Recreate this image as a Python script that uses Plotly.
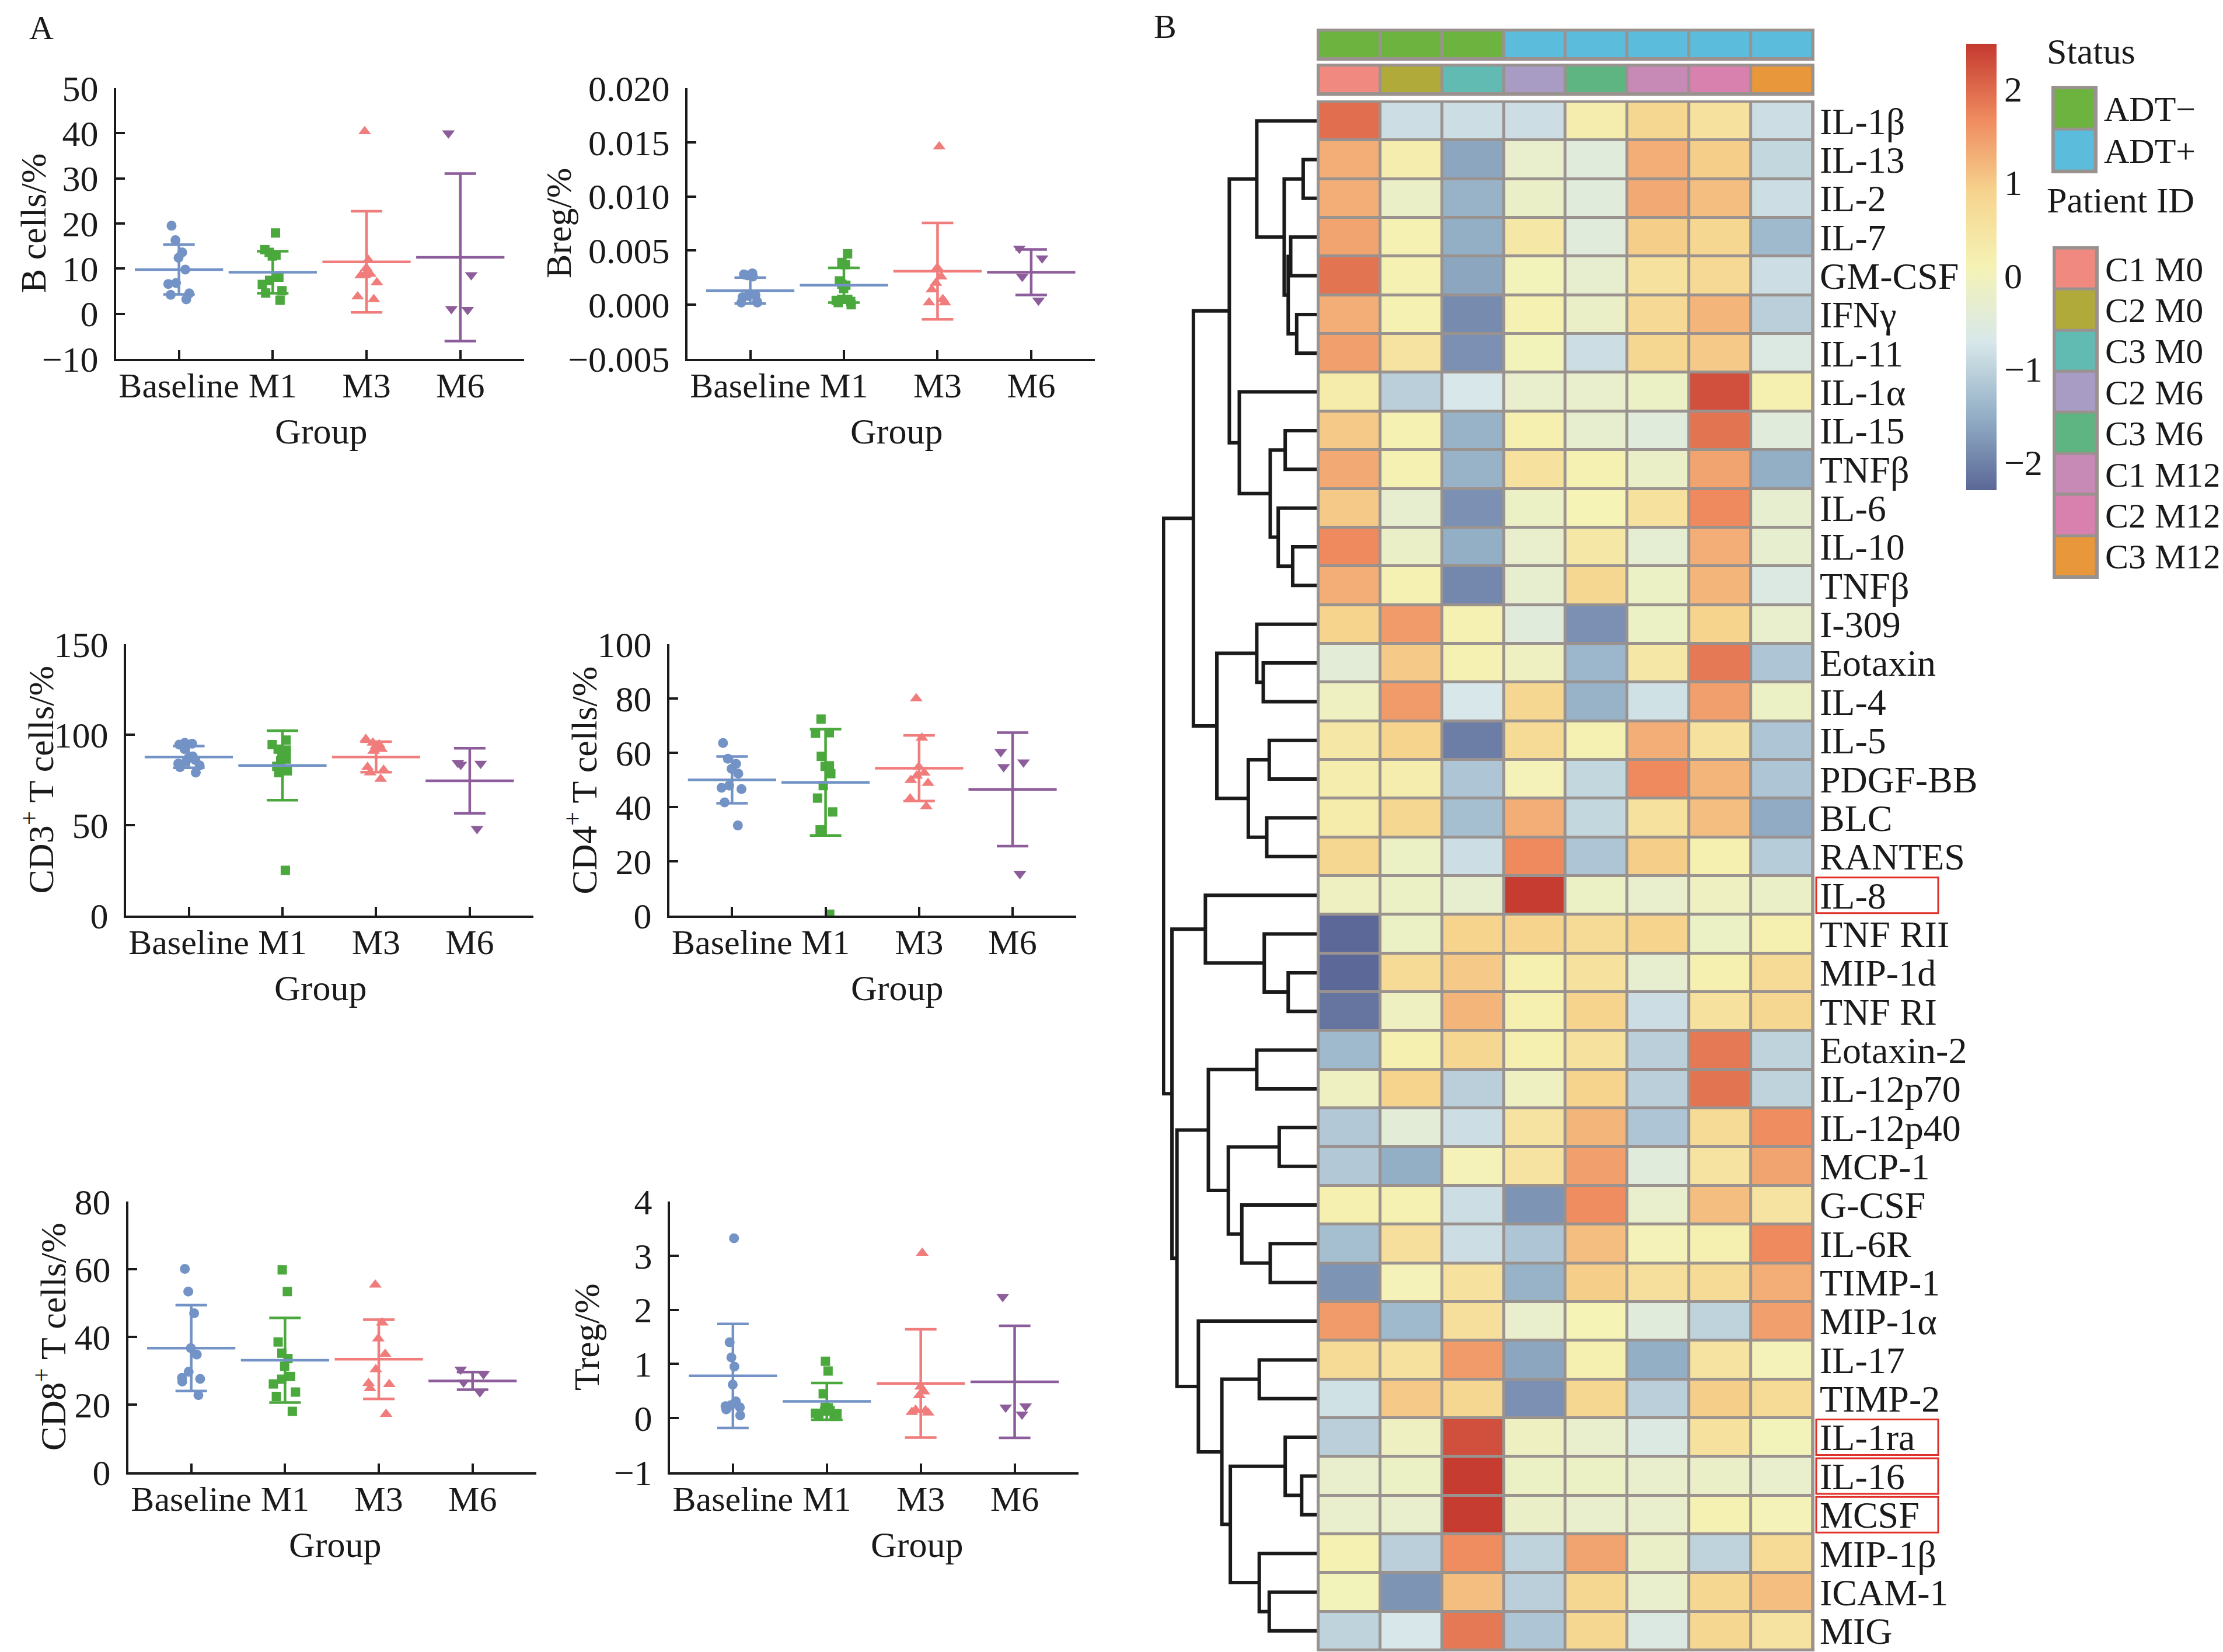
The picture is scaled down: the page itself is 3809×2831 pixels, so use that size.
import plotly.graph_objects as go

W, H = 3809, 2831
FONT = "Liberation Serif"
INK = "#1a1a1a"
FRAME = "#9a928f"

# ---------------- panel A data ----------------
GROUPS = ["Baseline", "M1", "M3", "M6"]
GROUP_COLORS = ["#7393c6", "#4aa83c", "#f07c7c", "#8d5c9a"]
MEAN_COLORS = ["#7393c6", "#7393c6", "#f07c7c", "#8d5c9a"]
GROUP_SYMBOLS = ["circle", "square", "triangle-up", "triangle-down"]
SYMBOL_SIZES = [17, 16, 19, 19]

B_CELLS = [
    [19.5, 16.3, 13.6, 12.4, 9.8, 6.8, 6.6, 4.5, 4.2, 3.2],
    [17.9, 14.2, 13.6, 13.0, 12.8, 8.1, 7.4, 6.5, 5.1, 4.6, 3.0],
    [40.4, 11.9, 10.1, 8.8, 8.6, 8.5, 6.9, 3.8, 3.2],
    [40.0, 8.6, 1.1, 0.9],
]
B_CELLS_MEAN = [9.8, 9.2, 11.5, 12.5]
B_CELLS_SD = [5.5, 4.65, 11.2, 18.55]

BREG = [
    [0.0029, 0.0028, 0.0027, 0.0026, 0.0010, 0.0009, 0.0008, 0.0007, 0.0003, 0.0002, 0.0002],
    [0.0047, 0.0039, 0.0037, 0.0022, 0.0019, 0.0018, 0.0015, 0.0005, 0.0004, 0.0005, 0.0003, 0.0002, 0.0000],
    [0.0146, 0.0034, 0.0026, 0.0020, 0.0014, 0.0005, 0.0002, 0.0002],
    [0.0052, 0.0043, 0.0026, 0.0004],
]
BREG_MEAN = [0.0013, 0.0018, 0.0031, 0.0030]
BREG_SD = [0.0012, 0.0016, 0.00445, 0.0021]

CD3 = [
    [95.5, 95.0, 94.5, 92.0, 88.0, 87.0, 86.0, 85.0, 84.0, 83.0, 82.0, 79.0],
    [97.0, 94.5, 92.0, 91.5, 90.5, 86.5, 85.5, 82.5, 80.0, 79.0, 25.0],
    [97.5, 95.5, 94.5, 93.5, 92.0, 91.0, 82.0, 80.5, 79.0, 75.5],
    [84.5, 84.0, 83.5, 48.0],
]
CD3_MEAN = [87.7, 83.0, 87.7, 74.5]
CD3_SD = [6.0, 19.2, 8.4, 18.0]

CD4 = [
    [63.6, 57.8, 55.9, 54.1, 52.3, 47.9, 47.1, 46.6, 41.7, 33.2],
    [72.4, 67.4, 67.2, 58.7, 55.2, 55.0, 52.3, 47.9, 43.3, 38.2, 31.6, 0.5],
    [80.0, 65.5, 54.8, 52.6, 51.5, 49.9, 48.8, 43.1, 40.2],
    [60.3, 56.5, 54.8, 15.4],
]
CD4_MEAN = [50.0, 49.1, 54.3, 46.5]
CD4_SD = [8.6, 19.6, 12.1, 20.9]

CD8 = [
    [60.1, 53.4, 47.0, 36.7, 34.8, 29.7, 27.9, 27.6, 26.8, 22.8],
    [59.8, 53.4, 38.5, 35.2, 33.6, 31.3, 28.3, 27.5, 26.1, 23.7, 22.4, 18.0],
    [55.4, 44.2, 39.5, 34.9, 30.4, 26.0, 26.3, 24.8, 17.2],
    [30.4, 29.0, 26.6, 23.7],
]
CD8_MEAN = [36.7, 33.1, 33.4, 27.0]
CD8_SD = [12.7, 12.5, 11.7, 2.6]

TREG = [
    [3.32, 1.40, 1.12, 0.95, 0.62, 0.31, 0.24, 0.22, 0.20, 0.16, 0.05],
    [1.05, 0.87, 0.45, 0.20, 0.19, 0.18, 0.14, 0.13, 0.09, 0.08, 0.07, 0.06],
    [3.05, 0.58, 0.49, 0.42, 0.15, 0.14, 0.11, 0.10],
    [2.24, 0.22, 0.20, 0.07],
]
TREG_MEAN = [0.78, 0.31, 0.64, 0.67]
TREG_SD = [0.96, 0.34, 1.0, 1.035]

# ---------------- panel B data ----------------
CYTOKINES = ["IL-1β", "IL-13", "IL-2", "IL-7", "GM-CSF", "IFNγ", "IL-11", "IL-1α",
             "IL-15", "TNFβ", "IL-6", "IL-10", "TNFβ", "I-309", "Eotaxin", "IL-4",
             "IL-5", "PDGF-BB", "BLC", "RANTES", "IL-8", "TNF RII", "MIP-1d", "TNF RI",
             "Eotaxin-2", "IL-12p70", "IL-12p40", "MCP-1", "G-CSF", "IL-6R", "TIMP-1",
             "MIP-1α", "IL-17", "TIMP-2", "IL-1ra", "IL-16", "MCSF", "MIP-1β", "ICAM-1", "MIG"]
HIGHLIGHTED = ["IL-8", "IL-1ra", "IL-16", "MCSF"]

CYTOKINE_Z = [
    [1.95, -0.85, -0.85, -0.85, 0.25, 0.82, 0.55, -0.85],
    [1.3, 0.25, -1.6, -0.25, -0.5, 1.3, 0.95, -0.95],
    [1.3, -0.2, -1.45, -0.2, -0.5, 1.35, 1.12, -0.85],
    [1.4, 0.15, -1.5, 0.38, -0.5, 0.95, 0.82, -1.35],
    [1.9, 0.15, -1.6, 0.0, -0.3, 0.55, 0.75, -0.85],
    [1.3, 0.15, -1.9, 0.15, -0.2, 0.75, 1.22, -1.05],
    [1.45, 0.5, -1.85, 0.0, -0.85, 0.82, 1.0, -0.6],
    [0.3, -1.05, -0.7, -0.25, -0.25, -0.15, 2.25, 0.2],
    [1.0, 0.15, -1.45, 0.2, -0.3, -0.5, 1.9, -0.5],
    [1.35, 0.15, -1.45, 0.55, 0.15, -0.2, 1.4, -1.5],
    [1.0, -0.3, -1.85, -0.15, 0.1, 0.55, 1.68, -0.3],
    [1.68, -0.2, -1.5, -0.25, 0.38, -0.35, 1.3, -0.3],
    [1.3, 0.15, -1.95, -0.3, 0.8, -0.15, 1.22, -0.6],
    [0.88, 1.5, 0.15, -0.5, -1.85, -0.15, 0.88, -0.25],
    [-0.4, 1.0, 0.15, -0.1, -1.4, 0.38, 1.85, -1.2],
    [-0.1, 1.5, -0.7, 0.82, -1.45, -0.8, 1.45, -0.15],
    [0.38, 0.88, -2.05, 0.7, 0.15, 1.3, 0.55, -1.2],
    [0.25, 0.25, -1.2, 0.05, -0.95, 1.68, 1.22, -1.2],
    [0.3, 0.82, -1.28, 1.3, -0.95, 0.55, 1.12, -1.55],
    [0.82, -0.15, -0.85, 1.68, -1.2, 0.95, 0.2, -1.1],
    [-0.1, -0.15, -0.3, 2.45, -0.15, -0.25, -0.1, -0.2],
    [-2.28, -0.15, 0.88, 0.88, 0.7, 0.88, -0.15, 0.2],
    [-2.28, 0.7, 1.0, 0.2, 0.55, -0.3, 0.2, 0.7],
    [-2.15, -0.1, 1.22, 0.2, 0.88, -0.85, 0.55, 0.8],
    [-1.35, 0.2, 0.8, 0.2, 0.55, -1.05, 1.85, -1.0],
    [-0.1, 0.88, -1.05, -0.1, 0.88, -1.05, 1.9, -1.0],
    [-1.15, -0.4, -0.85, 0.5, 1.22, -1.2, 0.7, 1.65],
    [-1.15, -1.5, 0.05, 0.5, 1.45, -0.5, 0.5, 1.4],
    [0.2, 0.15, -0.85, -1.8, 1.65, -0.25, 1.12, 0.5],
    [-1.28, 0.6, -0.85, -1.2, 1.12, 0.05, 0.2, 1.68],
    [-1.8, 0.05, 0.55, -1.45, 0.95, 0.6, 0.7, 1.3],
    [1.5, -1.35, 0.6, -0.25, 0.1, -0.5, -1.0, 1.45],
    [0.7, 0.55, 1.5, -1.6, 0.2, -1.5, 0.5, 0.05],
    [-0.8, 1.0, 0.8, -1.85, 0.82, -1.05, 0.95, 0.7],
    [-1.05, -0.1, 2.25, -0.1, -0.25, -0.6, 0.55, 0.0],
    [-0.25, -0.15, 2.45, -0.15, -0.15, -0.25, -0.2, -0.25],
    [-0.25, -0.25, 2.45, -0.2, -0.25, -0.25, 0.15, 0.05],
    [0.15, -1.05, 1.65, -1.0, 1.4, -0.2, -1.0, 0.7],
    [0.0, -1.8, 1.12, -1.05, 0.8, -0.25, 0.82, 1.12],
    [-1.0, -0.7, 1.85, -1.2, 0.82, -0.6, 0.82, 0.5],
]
Z_MIN, Z_MAX = -2.30, 2.48
HEAT_COLORS = ["#5b6797", "#93afc6", "#d8e8ea", "#f5f3b5", "#f6d48e", "#ef8a5f", "#c4392f"]

STATUS_LEVELS = ["ADT−", "ADT+"]
STATUS_COLORS = ["#6db33f", "#5bbcdc"]
STATUS = ["ADT−", "ADT−", "ADT−", "ADT+", "ADT+", "ADT+", "ADT+", "ADT+"]
PATIENTS = ["C1 M0", "C2 M0", "C3 M0", "C2 M6", "C3 M6", "C1 M12", "C2 M12", "C3 M12"]
PATIENT_COLORS = ["#f08a80", "#b0aa3a", "#62bbb3", "#a89bc4", "#5fb581", "#c78ab6", "#d880ae", "#e8973a"]

# row dendrogram: [height, left, right], leaves are row indices
DENDRO = [307,
          [247,
           [175,
            [120, 0, [65, [27, 1, 2], [57, [52, 3, 4], [40, 5, 6]]]],
            [155, 7, [93, [63, 8, 9], [77, 10, [48, 11, 12]]]]],
           [200,
            [120, 13, [107, 14, 15]],
            [137, [95, 16, 17], [100, 18, 19]]]],
          [290,
           [223, 20, [105, 21, [57, 22, 23]]],
           [280,
            [217, [120, 24, 25], [177, [75, 26, 27], [150, 28, [93, 29, 30]]]],
            [237, 31, [190, [115, 32, 33], [173, [63, 34, [30, 35, 36]], [115, 37, [95, 38, 39]]]]]]]]


def dom_x(a, b):
    return [a / W, b / W]


def dom_y(top, bottom):
    return [1 - bottom / H, 1 - top / H]


def names(k):
    s = "" if k == 1 else str(k)
    return "x" + s, "y" + s, "xaxis" + s, "yaxis" + s


def discrete_scale(colors):
    n = len(colors) - 1
    return [[i / n, c] for i, c in enumerate(colors)]


PANELS = [
    dict(title="B cells/%", pts=B_CELLS, mean=B_CELLS_MEAN, sd=B_CELLS_SD,
         yr=[-10, 50], ticks=[-10, 0, 10, 20, 30, 40, 50], fmt="",
         px=(191, 890), py=(143, 607), tx=49, gx=542),
    dict(title="Breg/%", pts=BREG, mean=BREG_MEAN, sd=BREG_SD,
         yr=[-0.005, 0.020], ticks=[-0.005, 0, 0.005, 0.010, 0.015, 0.020], fmt=".3f",
         px=(1170, 1868), py=(143, 607), tx=949, gx=1528),
    dict(title="CD3<sup>+</sup> T cells/%", pts=CD3, mean=CD3_MEAN, sd=CD3_SD,
         yr=[0, 150], ticks=[0, 50, 100, 150], fmt="",
         px=(208, 906), py=(1096, 1561), tx=56, gx=541),
    dict(title="CD4<sup>+</sup> T cells/%", pts=CD4, mean=CD4_MEAN, sd=CD4_SD,
         yr=[0, 100], ticks=[0, 20, 40, 60, 80, 100], fmt="",
         px=(1139, 1836), py=(1096, 1561), tx=987, gx=1529),
    dict(title="CD8<sup>+</sup> T cells/%", pts=CD8, mean=CD8_MEAN, sd=CD8_SD,
         yr=[0, 80], ticks=[0, 20, 40, 60, 80], fmt="",
         px=(212, 911), py=(2051, 2515), tx=78, gx=566),
    dict(title="Treg/%", pts=TREG, mean=TREG_MEAN, sd=TREG_SD,
         yr=[-1, 4], ticks=[-1, 0, 1, 2, 3, 4], fmt="",
         px=(1140, 1840), py=(2051, 2515), tx=997, gx=1563),
]

fig = go.Figure()
layout = {}
annotations = []
shapes = []

for k, p in enumerate(PANELS, start=1):
    xr, yr, xk, yk = names(k)
    for g, grp in enumerate(GROUPS):
        vals = p["pts"][g]
        fig.add_trace(go.Box(
            x=[grp] * len(vals), y=vals, xaxis=xr, yaxis=yr,
            boxpoints="all", jitter=0.5, pointpos=0, width=0.6,
            fillcolor="rgba(0,0,0,0)", line=dict(color="rgba(0,0,0,0)", width=0),
            marker=dict(symbol=GROUP_SYMBOLS[g], size=SYMBOL_SIZES[g], color=GROUP_COLORS[g]),
            showlegend=False, hoverinfo="y"))
    for g, grp in enumerate(GROUPS):
        fig.add_trace(go.Scatter(
            x=[grp], y=[p["mean"][g]], xaxis=xr, yaxis=yr, mode="markers",
            marker=dict(symbol="line-ew-open", size=108, color=MEAN_COLORS[g],
                        line=dict(color=MEAN_COLORS[g], width=4.5)),
            error_y=dict(type="data", array=[p["sd"][g]], color=GROUP_COLORS[g],
                         thickness=4.5, width=27),
            cliponaxis=False, showlegend=False, hoverinfo="y"))
    layout[xk] = dict(domain=dom_x(*p["px"]), anchor=yr, type="category",
                      categoryarray=GROUPS, range=[-0.67, 3.68], automargin=False,
                      showline=True, linecolor=INK, linewidth=4,
                      ticks="inside", ticklen=15, tickwidth=4, tickcolor=INK,
                      tickfont=dict(size=60), ticklabelstandoff=-10,
                      showgrid=False, zeroline=False)
    layout[yk] = dict(domain=dom_y(*p["py"]), anchor=xr, range=p["yr"], automargin=False,
                      tickvals=p["ticks"], tickformat=p["fmt"],
                      showline=True, linecolor=INK, linewidth=4,
                      ticks="inside", ticklen=15, tickwidth=4, tickcolor=INK,
                      tickfont=dict(size=62), ticklabelstandoff=14,
                      showgrid=False, zeroline=False)
    yc = (p["py"][0] + p["py"][1]) / 2
    annotations.append(dict(text=p["title"], xref="paper", yref="paper",
                            x=p["tx"] / W, y=1 - yc / H, textangle=-90,
                            xanchor="center", yanchor="middle", showarrow=False,
                            font=dict(size=62)))
    annotations.append(dict(text="Group", xref="paper", yref="paper",
                            x=p["gx"] / W, y=1 - (p["py"][1] + 124) / H,
                            xanchor="center", yanchor="middle", showarrow=False,
                            font=dict(size=62)))

# ---------------- dendrogram ----------------
dx, dy = [], []


def walk(node):
    if isinstance(node, int):
        return float(node), 0.0
    h, left, right = node
    yl, hl = walk(left)
    yr_, hr = walk(right)
    dx.extend([hl, h, h, hr, None])
    dy.extend([yl, yl, yr_, yr_, None])
    return (yl + yr_) / 2, h


walk(DENDRO)
n_rows = len(CYTOKINES)
n_cols = len(PATIENTS)
row_range = [n_rows - 0.5 + 0.03, -0.53]
col_range = [-0.53, n_cols - 0.5 + 0.03]
heat_py = (164, 2822)
heat_px = (2248, 3101)

fig.add_trace(go.Scatter(x=dx, y=dy, xaxis="x7", yaxis="y7", mode="lines",
                         line=dict(color=INK, width=6), showlegend=False, hoverinfo="skip"))
layout["xaxis7"] = dict(domain=dom_x(1983, heat_px[0]), anchor="y7", range=[310, 0],
                        visible=False, automargin=False)
layout["yaxis7"] = dict(domain=dom_y(*heat_py), anchor="x7", range=row_range,
                        visible=False, automargin=False)

# ---------------- heatmap ----------------
fig.add_trace(go.Heatmap(
    z=CYTOKINE_Z, x=list(range(n_cols)), y=list(range(n_rows)), xaxis="x8", yaxis="y8",
    zmin=Z_MIN, zmax=Z_MAX, colorscale=discrete_scale(HEAT_COLORS), xgap=5, ygap=5,
    hoverinfo="z",
    colorbar=dict(x=3361 / W, xanchor="left", y=1 - 67 / H, yanchor="top",
                  len=765 / H, lenmode="fraction", thickness=52, thicknessmode="pixels",
                  outlinewidth=0, xpad=0, ypad=0, ticks="",
                  tickvals=[-2, -1, 0, 1, 2], tickfont=dict(size=62))))
layout["xaxis8"] = dict(domain=dom_x(*heat_px), anchor="y8", range=col_range,
                        visible=False, automargin=False)
layout["yaxis8"] = dict(domain=dom_y(*heat_py), anchor="x8", range=row_range, side="right",
                        tickvals=list(range(n_rows)), ticktext=CYTOKINES, ticks="",
                        showline=False, showgrid=False, zeroline=False, automargin=False,
                        tickfont=dict(size=64), ticklabelstandoff=8)
shapes.append(dict(type="rect", xref="x8", yref="y8", x0=col_range[0], x1=col_range[1],
                   y0=row_range[0], y1=row_range[1], fillcolor=FRAME, line=dict(width=0),
                   layer="below"))

for i, name in enumerate(CYTOKINES):
    if name in HIGHLIGHTED:
        shapes.append(dict(type="rect", xref="paper", yref="y8", x0=3104 / W, x1=3313 / W,
                           y0=i - 0.46, y1=i + 0.46, line=dict(color="#e0302a", width=3)))

# ---------------- annotation bars ----------------
status_z = [[STATUS_LEVELS.index(s) for s in STATUS]]
patient_z = [list(range(n_cols))]
bars = [(9, status_z, STATUS_COLORS, (41, 96)), (10, patient_z, PATIENT_COLORS, (101, 156))]
for k, z, cols, py in bars:
    xr, yr, xk, yk = names(k)
    fig.add_trace(go.Heatmap(z=z, xaxis=xr, yaxis=yr, zmin=0, zmax=len(cols) - 1,
                             colorscale=discrete_scale(cols), showscale=False,
                             xgap=5, ygap=5, hoverinfo="skip"))
    layout[xk] = dict(domain=dom_x(*heat_px), anchor=yr, range=col_range,
                      visible=False, automargin=False)
    layout[yk] = dict(domain=dom_y(*py), anchor=xr, range=[-0.56, 0.56],
                      visible=False, automargin=False)
    shapes.append(dict(type="rect", xref=xr, yref=yr, x0=col_range[0], x1=col_range[1],
                       y0=-0.56, y1=0.56, fillcolor=FRAME, line=dict(width=0), layer="below"))

# ---------------- legends ----------------
legends = [(11, STATUS_LEVELS, STATUS_COLORS, (3507, 3586), (139, 289)),
           (12, PATIENTS, PATIENT_COLORS, (3509, 3588), (414, 984))]
for k, labels, cols, px, py in legends:
    xr, yr, xk, yk = names(k)
    n = len(labels)
    fig.add_trace(go.Heatmap(z=[[i] for i in range(n)], x=[0], y=list(range(n)),
                             xaxis=xr, yaxis=yr, zmin=0, zmax=n - 1,
                             colorscale=discrete_scale(cols), showscale=False,
                             xgap=5, ygap=5, hoverinfo="skip"))
    yrng = [n - 0.5 + 0.05, -0.55]
    layout[xk] = dict(domain=dom_x(*px), anchor=yr, range=[-0.55, 0.55],
                      visible=False, automargin=False)
    layout[yk] = dict(domain=dom_y(*py), anchor=xr, range=yrng, side="right",
                      tickvals=list(range(n)), ticktext=labels, ticks="",
                      showline=False, showgrid=False, zeroline=False, automargin=False,
                      tickfont=dict(size=60), ticklabelstandoff=10)
    shapes.append(dict(type="rect", xref=xr, yref=yr, x0=-0.55, x1=0.55,
                       y0=yrng[0], y1=yrng[1], fillcolor=FRAME, line=dict(width=0),
                       layer="below"))

for text, x, y, size in [("Status", 3497, 80, 62), ("Patient ID", 3497, 335, 62),
                         ("A", 40, 40, 58), ("B", 1967, 38, 58)]:
    annotations.append(dict(text=text, xref="paper", yref="paper", x=x / W, y=1 - y / H,
                            xanchor="left", yanchor="middle", showarrow=False,
                            font=dict(size=size)))

fig.update_layout(
    template="none",
    width=W, height=H, margin=dict(l=0, r=0, t=0, b=0, autoexpand=False),
    paper_bgcolor="white", plot_bgcolor="white",
    font=dict(family=FONT, color=INK),
    showlegend=False, boxmode="overlay",
    annotations=annotations, shapes=shapes,
    **layout)

fig.write_html("out.html")
